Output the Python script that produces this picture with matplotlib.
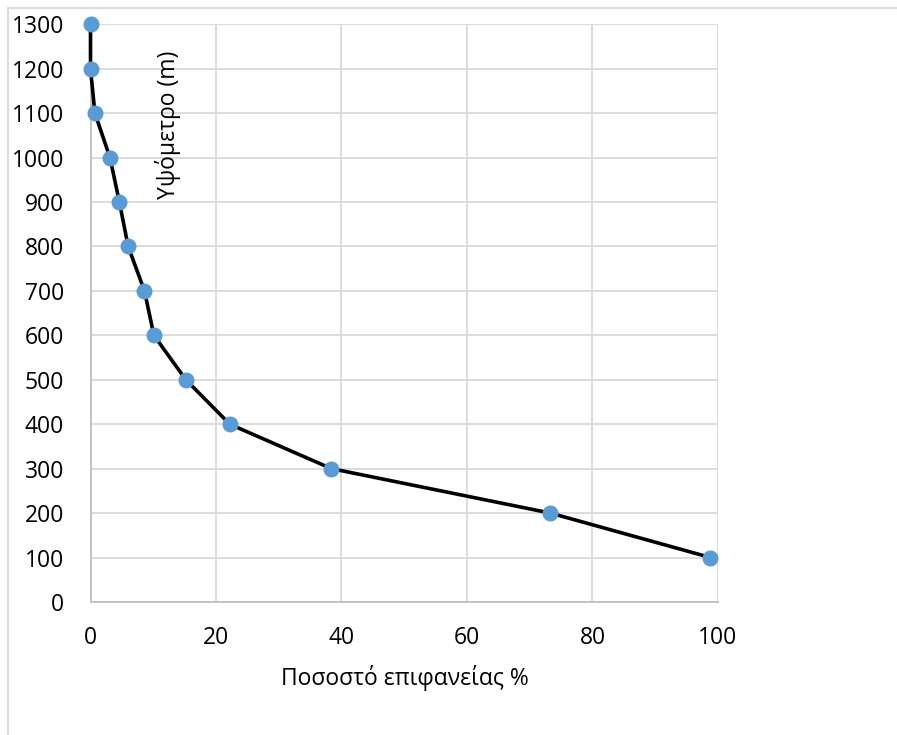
import matplotlib.pyplot as plt
from matplotlib.patches import Rectangle

# altitude zones and the share of surface above each
altitude = [1300, 1200, 1100, 1000, 900, 800, 700, 600, 500, 400, 300, 200, 100]
surface_pct = [0.0, 0.0, 0.7, 3.1, 4.6, 6.0, 8.6, 10.1, 15.2, 22.2, 38.4, 73.3, 98.8]

x_ticks = [0, 20, 40, 60, 80, 100]
y_ticks = list(range(0, 1400, 100))

plt.rcParams['font.family'] = ['Open Sans', 'DejaVu Sans']

fig = plt.figure(figsize=(8.97, 7.35), dpi=100)
ax = fig.add_axes([0.1009, 0.181, 0.6995, 0.786])

ax.plot(surface_pct, altitude, color='black', lw=2.6, zorder=3, clip_on=False)
ax.plot(surface_pct, altitude, 'o', color='#5b9bd5', ms=10.5, zorder=4, clip_on=False)

ax.set_xlim(0, 100)
ax.set_ylim(0, 1300)
ax.set_xticks(x_ticks)
ax.set_yticks(y_ticks)
ax.tick_params(length=0, labelsize=16.5, colors='black')
ax.tick_params(axis='x', pad=17)
ax.tick_params(axis='y', pad=19)

ax.grid(True, color='#d9d9d9', lw=1.3)
ax.set_axisbelow(True)
for side in ['top', 'right']:
    ax.spines[side].set_visible(False)
for side in ['left', 'bottom']:
    ax.spines[side].set_color('#bfbfbf')
    ax.spines[side].set_linewidth(1.3)

fig.text(0.4515, 0.0776, 'Ποσοστό επιφανείας %', ha='center', va='center', fontsize=16.5)
fig.text(0.187, 0.83, 'Υψόμετρο (m)', ha='center', va='center', rotation=90, fontsize=16.5)

# outer chart frame
fig.add_artist(Rectangle((8 / 897, -0.1), 1.1, 1.1 - 8 / 735, transform=fig.transFigure,
                         fill=False, edgecolor='#d9d9d9', lw=1.3))

fig.savefig('out.png', dpi=100)
